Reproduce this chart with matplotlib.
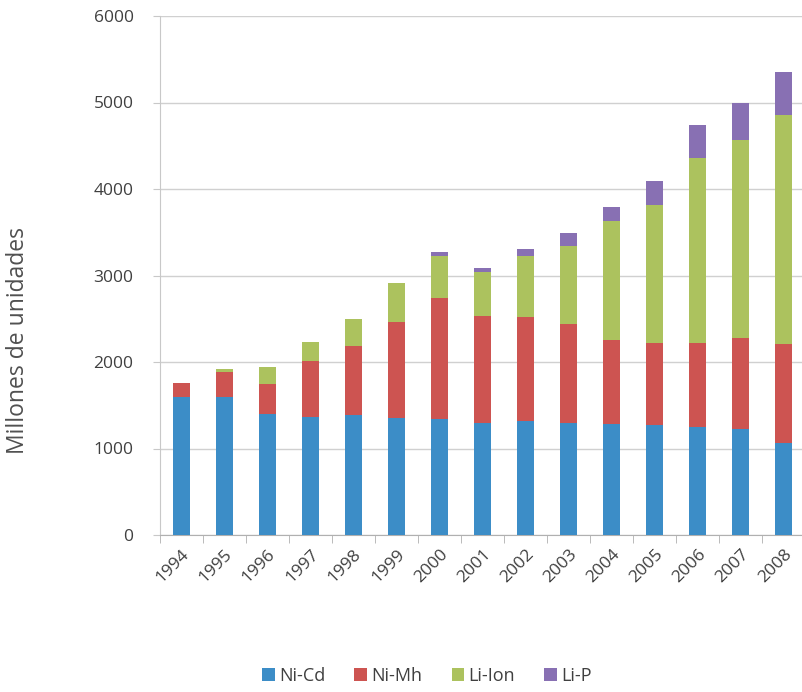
import matplotlib
matplotlib.use("Agg")
import matplotlib.pyplot as plt
import numpy as np

years = ["1994", "1995", "1996", "1997", "1998", "1999", "2000", "2001",
         "2002", "2003", "2004", "2005", "2006", "2007", "2008"]
ni_cd = [1590, 1590, 1400, 1360, 1390, 1350, 1340, 1290, 1320, 1290, 1285, 1275, 1245, 1225, 1060]
ni_mh = [165, 300, 340, 650, 800, 1110, 1405, 1240, 1200, 1145, 975, 950, 980, 1055, 1150]
li_ion = [5, 30, 200, 225, 305, 450, 485, 515, 705, 905, 1365, 1590, 2135, 2290, 2640]
li_p = [0, 0, 0, 0, 0, 0, 45, 40, 80, 155, 170, 280, 375, 425, 500]

series = [("Ni-Cd", ni_cd, "#3C8DC7"),
          ("Ni-Mh", ni_mh, "#CD5451"),
          ("Li-Ion", li_ion, "#ACC25E"),
          ("Li-P", li_p, "#8870B3")]

plt.rcParams['font.family'] = ['Open Sans', 'DejaVu Sans']

fig = plt.figure(figsize=(8.02, 6.92), dpi=100)
ax = fig.add_axes([160 / 802, 1 - 535 / 692, 645 / 802, 519 / 692])

x = np.arange(len(years))
bottom = np.zeros(len(years))
for name, vals, col in series:
    v = np.array(vals, dtype=float)
    ax.bar(x, v, bottom=bottom, width=0.39, color=col, label=name, zorder=3)
    bottom += v

ax.set_xlim(-0.5, len(years) - 0.5)
ax.set_ylim(0, 6000)
ax.set_yticks(np.arange(0, 6001, 1000))
ax.yaxis.grid(True, color="#D0D0D0", linewidth=1.0, zorder=0)
ax.set_axisbelow(True)

for s in ["top", "right"]:
    ax.spines[s].set_visible(False)
ax.spines["left"].set_color("#C8C8C8")
ax.spines["bottom"].set_color("#B0B0B0")

ax.set_xticks(x)
ax.set_xticklabels(years, rotation=45, ha="right", rotation_mode="anchor",
                   fontsize=12.5, color="#404040")
ax.tick_params(axis="x", which="major", length=0, pad=8)
ax.set_xticks(np.arange(-0.5, len(years), 1.0), minor=True)
ax.tick_params(axis="x", which="minor", length=6, color="#B0B0B0", direction="out")
ax.tick_params(axis="y", length=5, color="#C8C8C8", labelsize=12.5,
               labelcolor="#404040", pad=14)

fig.text(18 / 802, 1 - 340 / 692, "Millones de unidades", rotation=90,
         ha="center", va="center", fontsize=16.5, color="#505050")

handles, labels = ax.get_legend_handles_labels()
fig.legend(handles, labels, loc="center", bbox_to_anchor=(427 / 802, 1 - 676 / 692),
           ncol=4, frameon=False, fontsize=13, handlelength=0.7,
           handleheight=0.7, handletextpad=0.25, columnspacing=1.6,
           labelcolor="#404040")

fig.savefig("out.png", dpi=100)
